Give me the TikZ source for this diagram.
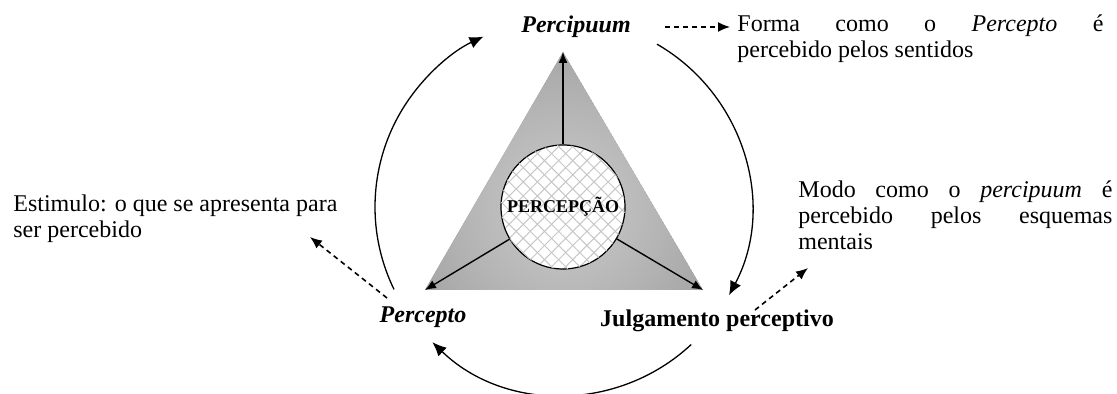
\documentclass[tikz,border=0pt]{standalone}
\usepackage{fontspec}
\setmainfont{Liberation Serif}
\usetikzlibrary{arrows.meta,patterns.meta}
\hyphenpenalty=10000
\exhyphenpenalty=10000

\tikzset{
    cycle arc/.style={line width=0.65pt,-{Latex[length=7pt,width=6pt]}},
    spoke/.style={line width=0.7pt,-{Latex[length=5.5pt,width=4.5pt]}},
    note arrow/.style={line width=0.8pt,dash pattern=on 2.5pt off 2pt,-{Latex[length=6pt,width=5pt]}},
    note/.style={anchor=north west,inner sep=0pt,align=justify,font=\fontsize{12}{13}\selectfont},
    stage/.style={anchor=base,inner sep=0pt,font=\fontsize{12}{13}\selectfont\bfseries}
}

\begin{document}
\begin{tikzpicture}[x=0.5pt,y=0.5pt]
            \useasboundingbox (0,0) rectangle (1117,394);

            \coordinate (C) at (563,187);
            \coordinate (A) at (563,342);
            \coordinate (B) at (425,104);
            \coordinate (D) at (703,104);

            \begin{scope}
                \clip (A) -- (B) -- (D) -- cycle;
                \fill[black!47] (A) -- (B) -- (D) -- cycle;
                \shade[inner color=black!20,outer color=black!47] (C) circle (290);
            \end{scope}

            \node[circle,draw,line width=0.6pt,minimum size=62pt,inner sep=0pt,
                preaction={fill=white},
                pattern={Lines[angle=45,distance=5pt,line width=0.5pt]},pattern color=black!22,
                postaction={pattern={Lines[angle=-45,distance=5pt,line width=0.5pt]},pattern color=black!22},
                font=\fontsize{9}{9}\selectfont\bfseries] (core) at (C) {PERCEPÇÃO};

            \draw[spoke] (core) -- (A);
            \draw[spoke] (core) -- (B);
            \draw[spoke] (core) -- (D);

            \node[stage] (percipuum) at (576,361) {\itshape Percipuum};
            \node[stage] (percepto) at (423,71) {\itshape Percepto};
            \node[stage] (julgamento) at (717,67) {Julgamento perceptivo};

            \node[note,text width=183pt] (forma) at (737,380)
                {Forma como o \textit{Percepto} é\linebreak percebido pelos sentidos};
            \node[note,text width=162pt] (estimulo) at (13,200)
                {Estimulo: o que se apresenta para\linebreak ser percebido};
            \node[note,text width=157pt] (modo) at (798,214)
                {Modo como o \textit{percipuum} é\linebreak percebido pelos esquemas\linebreak mentais};

            \draw[cycle arc] ([shift={(206:188)}]C) arc[start angle=206,end angle=115,radius=188];
            \draw[cycle arc] ([shift={(60:188)}]C) arc[start angle=60,end angle=-28,radius=188];
            \draw[cycle arc] ([shift={(-47:188)}]C) arc[start angle=-47,end angle=-134,radius=188];

            \coordinate (fa) at (665,367);
            \coordinate (fb) at (730,367);
            \coordinate (ea) at (387,96);
            \coordinate (eb) at (310,157);
            \coordinate (ma) at (755,84);
            \coordinate (mb) at (808,126);
            \draw[note arrow] (fa) -- (fb);
            \draw[note arrow] (ea) -- (eb);
            \draw[note arrow] (ma) -- (mb);

        \end{tikzpicture}
\end{document}
